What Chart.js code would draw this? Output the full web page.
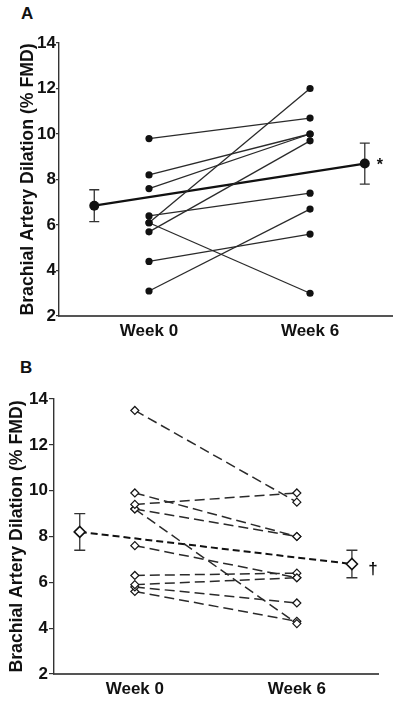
<!DOCTYPE html>
<html>
<head>
<meta charset="utf-8">
<script src="https://cdn.jsdelivr.net/npm/chart.js@4/dist/chart.umd.min.js"></script>
<style>
  html, body { margin: 0; padding: 0; background: #fff; }
  body { width: 400px; height: 702px; position: relative; overflow: hidden; font-family: "Liberation Sans", Arial, sans-serif; }
  .panel-label { position: absolute; font-weight: bold; font-size: 17px; line-height: 17px; color: #111; }
  canvas { position: absolute; left: 0; }
</style>
</head>
<body>
<div class="panel-label" style="left:21px; top:5px;">A</div>
<div class="panel-label" style="left:20px; top:359px;">B</div>
<canvas id="chartA" width="400" height="345" style="top:0px;"></canvas>
<canvas id="chartB" width="400" height="357" style="top:345px;"></canvas>
<script>
// ---------- data ----------
const weeks = ['Week 0', 'Week 6'];
const yTicks = [2, 4, 6, 8, 10, 12, 14];
const yTitle = 'Brachial Artery Dilation (% FMD)';

// Panel A (subjects, Week 0 -> Week 6)
const aWeek0 = [9.8, 8.2, 7.6, 6.4, 6.1, 6.1, 5.7, 4.4, 3.1];
const aWeek6 = [10.7, 10.0, 10.0, 7.4, 12.0, 3.0, 9.7, 5.6, 6.7];
const aMean = [6.85, 8.7];
const aLow = [6.15, 7.8];
const aHigh = [7.55, 9.6];
const aMark = '*';

// Panel B (subjects, Week 0 -> Week 6)
const bWeek0 = [13.5, 9.9, 9.4, 9.2, 9.2, 7.6, 6.3, 5.9, 5.8, 5.6];
const bWeek6 = [9.5, 8.0, 9.9, 8.0, 4.2, 6.2, 6.4, 6.2, 5.1, 4.3];
const bMean = [8.2, 6.8];
const bLow = [7.4, 6.2];
const bHigh = [9.0, 7.4];
const bMark = '\u2020';

// ---------- drawing helpers ----------
const FONT = "'Liberation Sans', Arial, sans-serif";
const NARROW = "'Liberation Sans Narrow', 'Liberation Sans', Arial, sans-serif";
const MEAN_OFFSET = 0.34;   // horizontal offset of mean markers from week positions

const errorBars = {
  id: 'errorBars',
  beforeDatasetsDraw(chart, args, o) {
    const { ctx, scales: { x, y } } = chart;
    ctx.save();
    ctx.strokeStyle = o.color;
    ctx.lineWidth = o.width;
    o.xs.forEach((xv, i) => {
      const px = x.getPixelForValue(xv);
      const top = y.getPixelForValue(o.high[i]);
      const bot = y.getPixelForValue(o.low[i]);
      ctx.beginPath();
      ctx.moveTo(px, top); ctx.lineTo(px, bot);
      ctx.moveTo(px - o.cap, top); ctx.lineTo(px + o.cap, top);
      ctx.moveTo(px - o.cap, bot); ctx.lineTo(px + o.cap, bot);
      ctx.stroke();
    });
    ctx.restore();
  },
  afterDatasetsDraw(chart, args, o) {
    const { ctx, scales: { x, y } } = chart;
    const i = o.xs.length - 1;
    ctx.save();
    ctx.fillStyle = '#111';
    ctx.font = 'bold ' + o.markSize + 'px ' + FONT;
    ctx.textAlign = 'center';
    ctx.textBaseline = 'middle';
    ctx.fillText(o.mark, x.getPixelForValue(o.xs[i]) + o.markDx, y.getPixelForValue(o.mean[i]) + o.markDy);
    ctx.restore();
  }
};

function makeChart(id, cfg) {
  const subjects = cfg.w0.map((v, i) => ({
    data: [{ x: 0, y: v }, { x: 1, y: cfg.w6[i] }],
    borderColor: '#2a2a2a',
    borderWidth: cfg.lineWidth,
    borderDash: cfg.dash,
    pointStyle: cfg.pointStyle,
    pointRadius: cfg.pointRadius,
    pointBackgroundColor: cfg.pointFill,
    pointBorderColor: '#151515',
    pointBorderWidth: cfg.pointBorder,
    showLine: true,
    clip: false
  }));
  const meanXs = [-MEAN_OFFSET, 1 + MEAN_OFFSET];
  const meanSet = {
    data: cfg.mean.map((v, i) => ({ x: meanXs[i], y: v })),
    borderColor: '#111',
    borderWidth: cfg.meanWidth,
    borderDash: cfg.meanDash,
    pointStyle: cfg.pointStyle,
    pointRadius: cfg.meanRadius,
    pointBackgroundColor: cfg.pointFill,
    pointBorderColor: '#111',
    pointBorderWidth: cfg.meanBorder,
    showLine: true,
    clip: false
  };
  return new Chart(document.getElementById(id), {
    type: 'scatter',
    data: { datasets: [...subjects, meanSet] },
    options: {
      responsive: false,
      animation: false,
      events: [],
      layout: { padding: cfg.padding },
      plugins: {
        legend: { display: false },
        tooltip: { enabled: false },
        errorBars: {
          xs: meanXs, mean: cfg.mean, low: cfg.low, high: cfg.high,
          color: '#333', width: 1.3, cap: cfg.cap,
          mark: cfg.mark, markSize: cfg.markSize, markDx: cfg.markDx, markDy: cfg.markDy
        }
      },
      scales: {
        x: {
          type: 'linear',
          min: cfg.xMin, max: cfg.xMax,
          afterBuildTicks: s => { s.ticks = weeks.map((_, i) => ({ value: i })); },
          afterFit: s => { s.height = cfg.xHeight; },
          ticks: {
            callback: v => weeks[v],
            color: '#111',
            font: { family: FONT, size: 17, weight: 'bold' },
            padding: 5,
            maxRotation: 0,
            autoSkip: false
          },
          grid: { display: false, drawTicks: false },
          border: { display: true, color: '#555', width: 2 }
        },
        y: {
          min: 2, max: 14,
          afterBuildTicks: s => { s.ticks = yTicks.map(v => ({ value: v })); },
          afterFit: s => { s.width = cfg.yWidth; },
          ticks: {
            color: '#111',
            font: { family: NARROW, size: 17, weight: 'bold' },
            padding: cfg.tickPad
          },
          grid: { drawOnChartArea: false, drawTicks: true, tickLength: cfg.tickLen, color: '#333', lineWidth: 1.2 },
          border: { display: true, color: '#333', width: 1.4 },
          title: {
            display: true,
            text: yTitle,
            color: '#111',
            font: { family: FONT, size: 17.7, weight: 'bold' },
            padding: { top: cfg.titlePad, bottom: 0 }
          }
        }
      }
    },
    plugins: [errorBars]
  });
}

makeChart('chartA', {
  w0: aWeek0, w6: aWeek6, mean: aMean, low: aLow, high: aHigh, mark: aMark,
  lineWidth: 1.3, dash: [], meanWidth: 2.2, meanDash: [],
  pointStyle: 'circle', pointRadius: 3.6, pointFill: '#111', pointBorder: 0,
  meanRadius: 5, meanBorder: 0,
  padding: { top: 43, right: 8, left: 0, bottom: 0 },
  xMin: -0.559, xMax: 1.509, xHeight: 29, yWidth: 59,
  tickPad: 0, tickLen: 3, titlePad: 17.4, cap: 5,
  markSize: 16, markDx: 15, markDy: 2
});

makeChart('chartB', {
  w0: bWeek0, w6: bWeek6, mean: bMean, low: bLow, high: bHigh, mark: bMark,
  lineWidth: 1.5, dash: [10, 5], meanWidth: 2, meanDash: [7, 4],
  pointStyle: 'rectRot', pointRadius: 4, pointFill: '#fff', pointBorder: 1.2,
  meanRadius: 5.5, meanBorder: 1.6,
  padding: { top: 54, right: 22, left: 0, bottom: 0 },
  xMin: -0.499, xMax: 1.501, xHeight: 28, yWidth: 54,
  tickPad: 1, tickLen: 5, titlePad: 6.1, cap: 5.5,
  markSize: 17, markDx: 21, markDy: 5
});
</script>
</body>
</html>
